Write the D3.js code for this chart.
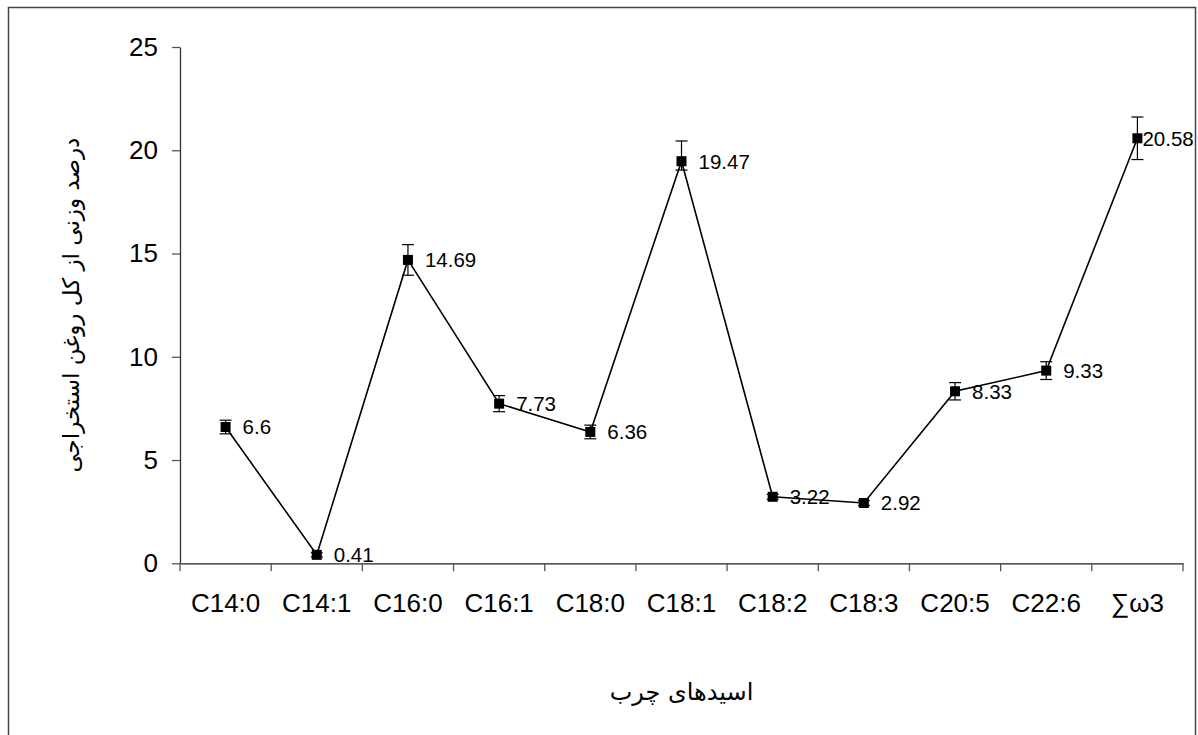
<!DOCTYPE html>
<html>
<head>
<meta charset="utf-8">
<script src="https://cdn.jsdelivr.net/npm/d3@7"></script>
<style>
  html, body { margin: 0; padding: 0; background: #fff; }
  svg { display: block; }
</style>
</head>
<body>
<svg id="chart" width="1198" height="735"></svg>
<script>
// Fatty acid composition (% of total extracted oil)
const categories = ["C14:0", "C14:1", "C16:0", "C16:1", "C18:0", "C18:1", "C18:2", "C18:3", "C20:5", "C22:6", "∑ω3"];
const values     = [6.6, 0.41, 14.69, 7.73, 6.36, 19.47, 3.22, 2.92, 8.33, 9.33, 20.58];
const errPlus    = [0.33, 0.1, 0.74, 0.39, 0.33, 0.98, 0.12, 0.12, 0.42, 0.43, 1.03];
const errMinus   = [0.33, 0.1, 0.74, 0.39, 0.33, 0.43, 0.12, 0.12, 0.42, 0.43, 1.03];
const yTicks     = [0, 5, 10, 15, 20, 25];
const yTitle = "درصد وزنی از کل روغن استخراجی";
const xTitle = "اسیدهای چرب";

const svg = d3.select("#chart");
const plot = { left: 180, right: 1183, top: 47, bottom: 563.3 };

// outer frame
svg.append("rect")
  .attr("x", 8.5).attr("y", 7.5)
  .attr("width", 1187).attr("height", 760)
  .attr("fill", "none").attr("stroke", "#444").attr("stroke-width", 1.5);

const x = d3.scaleBand().domain(categories).range([plot.left, plot.right]).padding(0);
const y = d3.scaleLinear().domain([0, 25]).range([plot.bottom, plot.top]);
const cx = d => x(d) + x.bandwidth() / 2;

// y axis
const yAxis = svg.append("g")
  .attr("transform", `translate(${plot.left},0)`)
  .call(d3.axisLeft(y).tickValues(yTicks).tickSize(8).tickPadding(14).tickSizeOuter(0));
yAxis.select(".domain").attr("stroke", "#333").attr("stroke-width", 1.3);
yAxis.selectAll(".tick line").attr("stroke", "#555").attr("stroke-width", 1.3);
yAxis.selectAll(".tick text")
  .attr("font-family", "'Liberation Sans', Arial, sans-serif")
  .attr("font-size", 26).attr("fill", "#000");

// x axis: labels at category centres, tick marks at category boundaries
const xAxis = svg.append("g")
  .attr("transform", `translate(0,${plot.bottom})`)
  .call(d3.axisBottom(x).tickSize(0).tickPadding(30).tickSizeOuter(0));
xAxis.select(".domain").attr("stroke", "#222").attr("stroke-width", 1.3);
xAxis.selectAll(".tick text")
  .attr("font-family", "'Liberation Sans', Arial, sans-serif")
  .attr("font-size", 26).attr("fill", "#000");

const bounds = categories.map(c => x(c)).concat([x.range()[1]]);
xAxis.selectAll("line.bound").data(bounds).join("line")
  .attr("class", "bound")
  .attr("x1", d => d).attr("x2", d => d)
  .attr("y1", 0).attr("y2", 8)
  .attr("stroke", "#555").attr("stroke-width", 1.3);

// connecting line
const line = d3.line().x((d, i) => cx(categories[i])).y(d => y(d));
svg.append("path")
  .datum(values)
  .attr("d", line)
  .attr("fill", "none").attr("stroke", "#000").attr("stroke-width", 1.6);

// error bars
const eb = svg.append("g").attr("stroke", "#000").attr("stroke-width", 1.2);
values.forEach((v, i) => {
  const px = cx(categories[i]);
  const top = y(v + errPlus[i]), bot = y(v - errMinus[i]);
  eb.append("line").attr("x1", px).attr("x2", px).attr("y1", top).attr("y2", bot);
  eb.append("line").attr("x1", px - 6).attr("x2", px + 6).attr("y1", top).attr("y2", top);
  eb.append("line").attr("x1", px - 6).attr("x2", px + 6).attr("y1", bot).attr("y2", bot);
});

// square markers
svg.append("g").selectAll("rect").data(values).join("rect")
  .attr("x", (d, i) => cx(categories[i]) - 5)
  .attr("y", d => y(d) - 5)
  .attr("width", 10).attr("height", 10)
  .attr("fill", "#000");

// value labels
svg.append("g").selectAll("text").data(values).join("text")
  .attr("x", (d, i) => cx(categories[i]) + (i === values.length - 1 ? 5 : 17))
  .attr("y", d => y(d))
  .attr("dy", "0.36em")
  .attr("font-family", "'Liberation Sans', Arial, sans-serif")
  .attr("font-size", 20.5).attr("fill", "#000")
  .text(d => d);

// axis titles
svg.append("text")
  .attr("transform", `translate(79,${(plot.top + plot.bottom) / 2}) rotate(-90)`)
  .attr("text-anchor", "middle")
  .attr("font-family", "'DejaVu Sans', sans-serif")
  .attr("font-size", 23).attr("fill", "#000")
  .text(yTitle);

svg.append("text")
  .attr("x", (plot.left + plot.right) / 2)
  .attr("y", 700)
  .attr("text-anchor", "middle")
  .attr("font-family", "'DejaVu Sans', sans-serif")
  .attr("font-size", 24).attr("fill", "#000")
  .text(xTitle);
</script>
</body>
</html>
